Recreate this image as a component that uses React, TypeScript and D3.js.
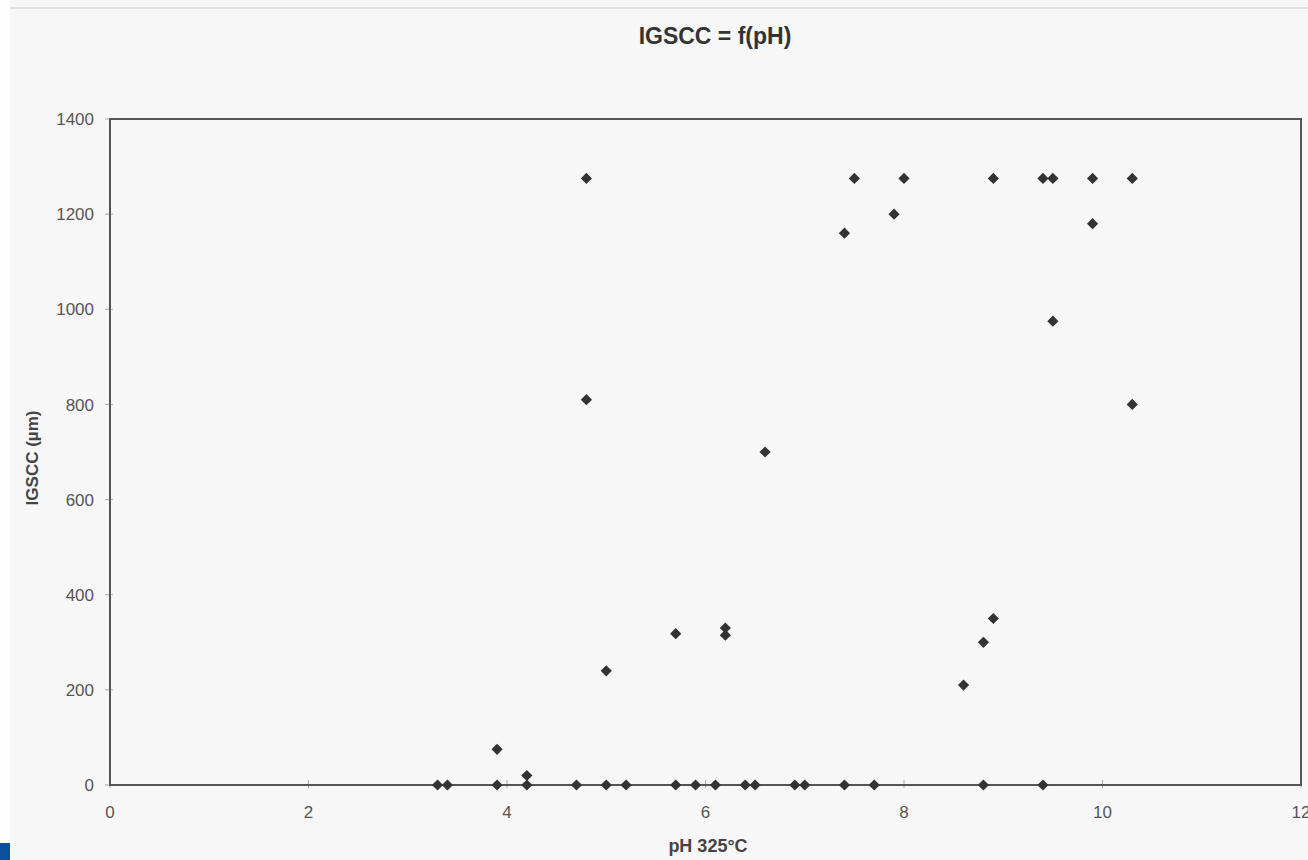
import React from "react";
import * as d3 from "d3";

// pH at 325°C and measured IGSCC depth (µm)
const ph: number[] = [
  3.3, 3.4, 3.9, 4.2, 4.7, 5.0, 5.2, 5.7, 5.9, 6.1, 6.4, 6.5, 6.9, 7.0, 7.4, 7.7, 8.8, 9.4,
  4.8, 4.8, 3.9, 4.2, 5.0, 5.7, 6.2, 6.2, 6.6, 7.4, 7.5, 7.9, 8.0, 8.6, 8.8, 8.9, 8.9,
  9.4, 9.5, 9.5, 9.9, 9.9, 10.3, 10.3,
];
const igscc: number[] = [
  0, 0, 0, 0, 0, 0, 0, 0, 0, 0, 0, 0, 0, 0, 0, 0, 0, 0,
  1275, 810, 75, 20, 240, 318, 330, 315, 700, 1160, 1275, 1200, 1275, 210, 300, 350, 1275,
  1275, 1275, 975, 1275, 1180, 1275, 800,
];

const xTicks: number[] = [0, 2, 4, 6, 8, 10, 12];
const yTicks: number[] = [0, 200, 400, 600, 800, 1000, 1200, 1400];

const title = "IGSCC = f(pH)";
const xLabel = "pH 325°C";
const yLabel = "IGSCC (µm)";

const W = 1308;
const H = 860;
const plot = { left: 110, right: 1301, top: 119, bottom: 785 };

export default function App() {
  const x = d3.scaleLinear().domain([0, 12]).range([plot.left, plot.right]);
  const y = d3.scaleLinear().domain([0, 1400]).range([plot.bottom, plot.top]);
  const marker = d3.symbol().type(d3.symbolDiamond2).size(80)();
  const font = "'Liberation Sans', Arial, sans-serif";

  return (
    <svg
      width={W}
      height={H}
      style={{ position: "absolute", left: 0, top: 0, background: "#f7f7f7" }}
      fontFamily={font}
    >
      <rect x={0} y={0} width={10} height={H} fill="#fdfdfd" />
      <line x1={10} x2={W} y1={8} y2={8} stroke="#d8d8d8" strokeWidth={1.5} />
      <rect x={0} y={843} width={10} height={17} fill="#0b4f9e" />

      <text x={715} y={44} textAnchor="middle" fontSize={23} fontWeight="bold" fill="#333">
        {title}
      </text>

      {/* tick marks */}
      {yTicks.map((t) => (
        <line key={"yt" + t} x1={plot.left - 5} x2={plot.left + 3} y1={y(t)} y2={y(t)} stroke="#aaa" strokeWidth={1} />
      ))}
      {xTicks.map((t) => (
        <line key={"xt" + t} x1={x(t)} x2={x(t)} y1={plot.bottom - 5} y2={plot.bottom + 3} stroke="#aaa" strokeWidth={1} />
      ))}

      {/* plot frame */}
      <rect
        x={plot.left}
        y={plot.top}
        width={plot.right - plot.left}
        height={plot.bottom - plot.top}
        fill="none"
        stroke="#555"
        strokeWidth={2}
      />

      {yTicks.map((t) => (
        <text key={"yl" + t} x={94} y={y(t)} dy="0.36em" textAnchor="end" fontSize={17} fill="#555">
          {t}
        </text>
      ))}
      {xTicks.map((t) => (
        <text key={"xl" + t} x={x(t)} y={818} textAnchor="middle" fontSize={17} fill="#555">
          {t}
        </text>
      ))}

      <text x={708} y={852} textAnchor="middle" fontSize={18} fontWeight="bold" fill="#444">
        {xLabel}
      </text>
      <text
        transform={`translate(38,458) rotate(-90)`}
        textAnchor="middle"
        fontSize={17}
        fontWeight="bold"
        fill="#444"
      >
        {yLabel}
      </text>

      {ph.map((p, i) => (
        <path key={"pt" + i} d={marker} transform={`translate(${x(p)},${y(igscc[i])})`} fill="#333" />
      ))}
    </svg>
  );
}
